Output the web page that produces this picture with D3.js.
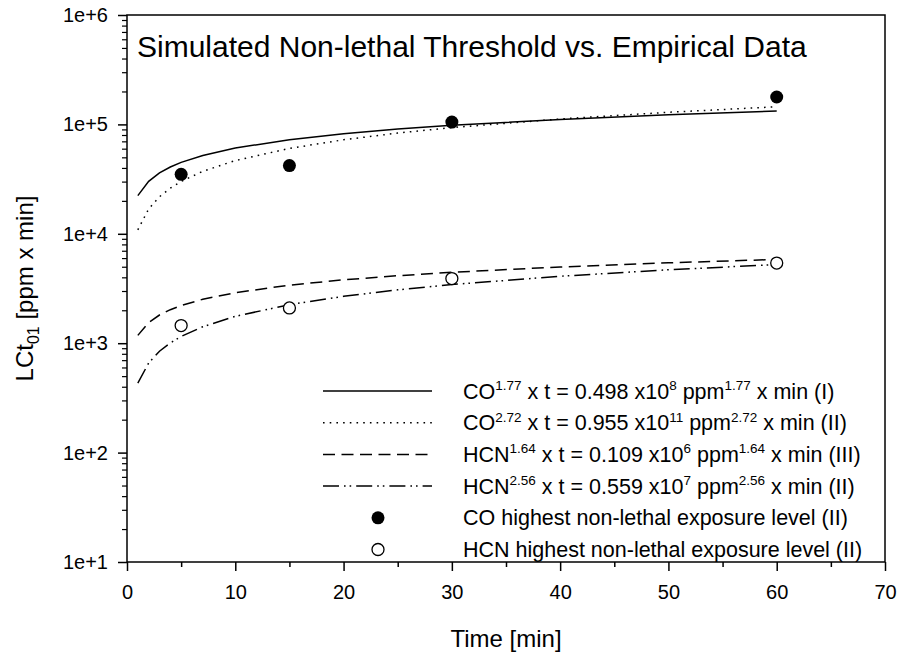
<!DOCTYPE html>
<html>
<head>
<meta charset="utf-8">
<script src="https://cdn.jsdelivr.net/npm/d3@7"></script>
<style>
  body { margin: 0; background: #fff; }
  text { font-family: "Liberation Sans", Arial, sans-serif; fill: #000; }
</style>
</head>
<body>
<svg id="chart"></svg>
<script>
const timeMin = [1, 2, 3, 4, 5, 7, 10, 15, 20, 25, 30, 40, 50, 60];
// LCt01 model curves [ppm x min]
const coModelI = [22320, 30170, 35990, 40790, 44950, 52040, 60770, 72510, 82150, 90560, 98000, 111100, 122400, 132500];
const coModelII = [10880, 16870, 21810, 26150, 30110, 37260, 46690, 60330, 72370, 83320, 93500, 112100, 129100, 144900];
const hcnModelIII = [1179, 1546, 1810, 2025, 2210, 2520, 2896, 3393, 3796, 4141, 4447, 4975, 5428, 5829];
const hcnModelII = [432, 659, 844, 1006, 1152, 1415, 1759, 2251, 2683, 3073, 3434, 4093, 4688, 5240];
// empirical points
const pointTimes = [5, 15, 30, 60];
const coObserved = [35000, 42000, 105000, 178000];
const hcnObserved = [1450, 2100, 3900, 5400];
// ticks
const xTicks = [0, 10, 20, 30, 40, 50, 60, 70];
const xMinorTicks = [5, 15, 25, 35, 45, 55, 65];
const yTicks = [1e1, 1e2, 1e3, 1e4, 1e5, 1e6];
const yTickLabels = ["1e+1", "1e+2", "1e+3", "1e+4", "1e+5", "1e+6"];

const W = 901, H = 654;
const plot = { left: 127, right: 885, top: 15, bottom: 562 };

const svg = d3.select("#chart").attr("width", W).attr("height", H);

const x = d3.scaleLinear().domain([0, 70]).range([plot.left, plot.right]);
const y = d3.scaleLog().domain([1e1, 1e6]).range([plot.bottom, plot.top]);

// minor y ticks 2..9 of each decade
const yMinor = [];
yTicks.slice(0, -1).forEach(function (d) {
  for (let k = 2; k <= 9; k++) yMinor.push(d * k);
});

// frame
svg.append("rect")
  .attr("x", plot.left).attr("y", plot.top)
  .attr("width", plot.right - plot.left).attr("height", plot.bottom - plot.top)
  .attr("fill", "none").attr("stroke", "#000").attr("stroke-width", 1.5);

// x axis
const xAxis = svg.append("g").attr("transform", "translate(0," + plot.bottom + ")");
xAxis.call(d3.axisBottom(x).tickValues(xTicks).tickSize(9).tickSizeOuter(0).tickPadding(14));
xAxis.select(".domain").remove();
xAxis.selectAll("line").attr("stroke-width", 1.5);
xAxis.selectAll("text").style("font-size", "20px");
const xMinorAxis = svg.append("g").attr("transform", "translate(0," + plot.bottom + ")");
xMinorAxis.call(d3.axisBottom(x).tickValues(xMinorTicks).tickSize(5).tickFormat(""));
xMinorAxis.select(".domain").remove();
xMinorAxis.selectAll("line").attr("stroke-width", 1.5);

// y axis
const yAxis = svg.append("g").attr("transform", "translate(" + plot.left + ",0)");
yAxis.call(d3.axisLeft(y).tickValues(yTicks).tickSize(9).tickPadding(10)
  .tickFormat(function (d, i) { return yTickLabels[i]; }));
yAxis.select(".domain").remove();
yAxis.selectAll("line").attr("stroke-width", 1.5);
yAxis.selectAll("text").style("font-size", "20px");
const yMinorAxis = svg.append("g").attr("transform", "translate(" + plot.left + ",0)");
yMinorAxis.call(d3.axisLeft(y).tickValues(yMinor).tickSize(5).tickFormat(""));
yMinorAxis.select(".domain").remove();
yMinorAxis.selectAll("line").attr("stroke-width", 1.2);

// axis titles
svg.append("text")
  .attr("x", (plot.left + plot.right) / 2).attr("y", 647)
  .attr("text-anchor", "middle").style("font-size", "24px")
  .text("Time [min]");

const yTitle = svg.append("text")
  .attr("transform", "translate(33," + (plot.top + plot.bottom) / 2 + ") rotate(-90)")
  .attr("text-anchor", "middle").style("font-size", "24px");
yTitle.append("tspan").text("LCt");
yTitle.append("tspan").attr("dy", 6).style("font-size", "16px").text("01");
yTitle.append("tspan").attr("dy", -6).text(" [ppm x min]");

// chart title
svg.append("text")
  .attr("x", 137).attr("y", 57)
  .style("font-size", "30px")
  .text("Simulated Non-lethal Threshold vs. Empirical Data");

// curves
const series = [
  { values: coModelI, dash: null },
  { values: coModelII, dash: "1.6,5.1" },
  { values: hcnModelIII, dash: "12,6.5" },
  { values: hcnModelII, dash: "16,5,1.6,4,1.6,5" }
];
const line = d3.line()
  .x(function (d) { return x(d[0]); })
  .y(function (d) { return y(d[1]); });

series.forEach(function (s) {
  svg.append("path")
    .datum(timeMin.map(function (t, i) { return [t, s.values[i]]; }))
    .attr("d", line)
    .attr("fill", "none")
    .attr("stroke", "#000")
    .attr("stroke-width", 1.5)
    .attr("stroke-dasharray", s.dash);
});

// empirical points
svg.selectAll(".coPt")
  .data(pointTimes.map(function (t, i) { return [t, coObserved[i]]; }))
  .enter().append("circle")
  .attr("class", "coPt")
  .attr("cx", function (d) { return x(d[0]); })
  .attr("cy", function (d) { return y(d[1]); })
  .attr("r", 6.5)
  .attr("fill", "#000");

svg.selectAll(".hcnPt")
  .data(pointTimes.map(function (t, i) { return [t, hcnObserved[i]]; }))
  .enter().append("circle")
  .attr("class", "hcnPt")
  .attr("cx", function (d) { return x(d[0]); })
  .attr("cy", function (d) { return y(d[1]); })
  .attr("r", 6)
  .attr("fill", "#fff")
  .attr("stroke", "#000")
  .attr("stroke-width", 1.3);

// legend
const legendRows = [
  { dash: null, parts: [["CO"], ["1.77", "sup"], [" x t = 0.498 x10"], ["8", "sup"], [" ppm"], ["1.77", "sup"], [" x min (I)"]] },
  { dash: "1.6,5.1", parts: [["CO"], ["2.72", "sup"], [" x t = 0.955 x10"], ["11", "sup"], [" ppm"], ["2.72", "sup"], [" x min (II)"]] },
  { dash: "12,6.5", parts: [["HCN"], ["1.64", "sup"], [" x t = 0.109 x10"], ["6", "sup"], [" ppm"], ["1.64", "sup"], [" x min (III)"]] },
  { dash: "16,5,1.6,4,1.6,5", parts: [["HCN"], ["2.56", "sup"], [" x t = 0.559 x10"], ["7", "sup"], [" ppm"], ["2.56", "sup"], [" x min (II)"]] },
  { marker: "filled", parts: [["CO highest non-lethal exposure level (II)"]] },
  { marker: "open", parts: [["HCN highest non-lethal exposure level (II)"]] }
];
const legY0 = 391, legStep = 31.7;
legendRows.forEach(function (row, i) {
  const cy = legY0 + i * legStep;
  if (row.marker) {
    svg.append("circle")
      .attr("cx", 378).attr("cy", cy)
      .attr("r", row.marker === "filled" ? 6.5 : 6)
      .attr("fill", row.marker === "filled" ? "#000" : "#fff")
      .attr("stroke", "#000").attr("stroke-width", row.marker === "filled" ? 0 : 1.3);
  } else {
    svg.append("line")
      .attr("x1", 323).attr("x2", 432).attr("y1", cy).attr("y2", cy)
      .attr("stroke", "#000").attr("stroke-width", 1.5)
      .attr("stroke-dasharray", row.dash);
  }
  const t = svg.append("text")
    .attr("x", 463).attr("y", cy + 7.5)
    .style("font-size", "21.5px");
  let raised = false;
  row.parts.forEach(function (p) {
    const sp = t.append("tspan").text(p[0]);
    if (p[1] === "sup" && !raised) {
      sp.attr("dy", -8.5).style("font-size", "13.5px");
      raised = true;
    } else if (p[1] !== "sup" && raised) {
      sp.attr("dy", 8.5);
      raised = false;
    }
  });
});
</script>
</body>
</html>
